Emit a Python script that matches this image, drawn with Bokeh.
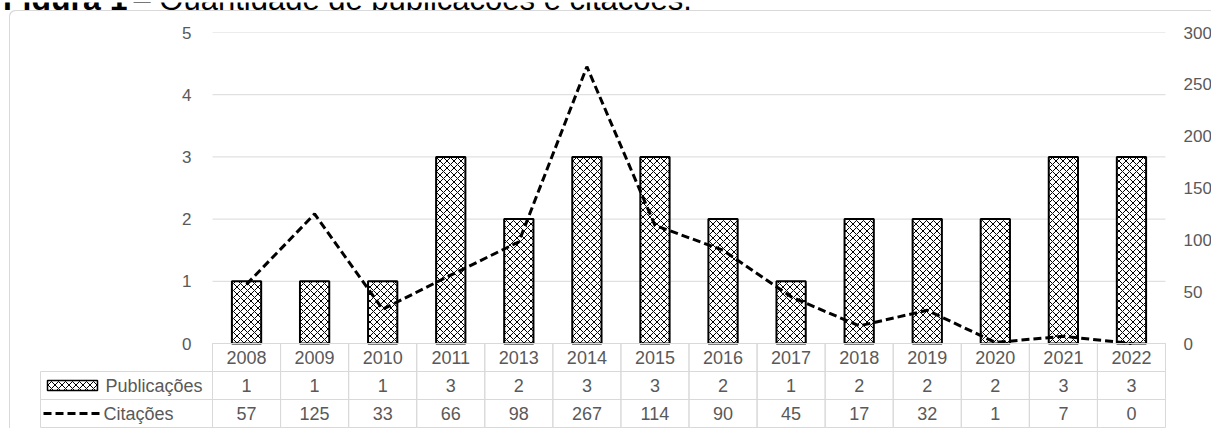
from bokeh.plotting import figure
from bokeh.models import Range1d, LinearAxis, FixedTicker
from bokeh.layouts import column
from bokeh.embed import file_html
from bokeh.resources import INLINE
from bokeh.core.properties import value

# ---------------- data ----------------
years = ["2008", "2009", "2010", "2011", "2013", "2014", "2015",
         "2016", "2017", "2018", "2019", "2020", "2021", "2022"]
publicacoes = [1, 1, 1, 3, 2, 3, 3, 2, 1, 2, 2, 2, 3, 3]
citacoes = [57, 125, 33, 66, 98, 267, 114, 90, 45, 17, 32, 1, 7, 0]
left_ticks = [0, 1, 2, 3, 4, 5]
right_ticks = [0, 50, 100, 150, 200, 250, 300]
series_names = ["Publicações", "Citações"]
title_bold = "Figura 1"
title_rest = "– Quantidade de publicações e citações."

# ---------------- style / layout (px, page coordinates) ----------------
FONT = value("Liberation Sans")
TXT = "#595959"
GRID = "#d9d9d9"
ORIGIN_X = 9          # left edge of the chart box
FRAME_L = 212         # left of plot area
FRAME_W = 953         # width of plot area
FRAME_T = 32          # top of plot area
PLOT_H = 311          # height of plot area
ROW_H = 28            # table row height
LEG_L = 40            # left of table legend column
TITLE_H = 10
TITLE_BASE = -3.5     # title baseline (its upper part lies above the page)
PAGE_W = 1211

n = len(years)
CW = FRAME_W / n
PPU = PLOT_H / max(left_ticks)
ru = ROW_H / PPU
ratio = max(right_ticks) / max(left_ticks)
leg = (FRAME_L - LEG_L) / CW
padx = 1 / CW
table_units = (3 * ROW_H + 1) / PPU
centers = [i + 0.5 for i in range(n)]

common = dict(output_backend="svg", toolbar_location=None,
              outline_line_color=None, border_fill_color=None,
              background_fill_color=None)

# ---------------- title strip (top of the title is cut, as in the source) ----------------
c = figure(width=PAGE_W, height=TITLE_H, x_range=Range1d(0, PAGE_W),
           y_range=Range1d(TITLE_H, 0), min_border=0,
           x_axis_location=None, y_axis_location=None, **common)
c.grid.visible = False
c.text(x=[127], y=[TITLE_BASE], text=[title_bold], text_font=FONT,
       text_font_size="32px", text_font_style="bold", text_align="right",
       text_baseline="alphabetic", text_color="black")
c.text(x=[133], y=[TITLE_BASE], text=[title_rest], text_font=FONT,
       text_font_size="31px", text_align="left",
       text_baseline="alphabetic", text_color="black")

# ---------------- chart + data table ----------------
p = figure(x_range=Range1d(-leg - padx, n + padx),
           y_range=Range1d(-table_units, max(left_ticks)),
           frame_width=FRAME_W + (FRAME_L - LEG_L) + 2,
           frame_height=PLOT_H + 3 * ROW_H + 1,
           min_border_left=LEG_L - 1 - ORIGIN_X, min_border_right=37,
           min_border_top=FRAME_T - TITLE_H, min_border_bottom=0,
           x_axis_location=None, y_axis_location="left", **common)
p.grid.visible = False
p.extra_y_ranges = {"cit": Range1d(-table_units * ratio, max(right_ticks))}
p.add_layout(LinearAxis(y_range_name="cit"), "right")

left_standoff = (LEG_L - 1) - (FRAME_L - 15)
for ax, ticks, stand in ((p.yaxis[0], left_ticks, left_standoff),
                         (p.yaxis[1], right_ticks, 11)):
    ax.ticker = FixedTicker(ticks=ticks)
    ax.axis_line_color = None
    ax.major_tick_line_color = None
    ax.minor_tick_line_color = None
    ax.major_label_standoff = stand
    ax.major_label_text_font = "Liberation Sans"
    ax.major_label_text_font_size = "17px"
    ax.major_label_text_color = TXT

# horizontal gridlines over the plot area only
p.segment(x0=[0] * len(left_ticks), x1=[n] * len(left_ticks),
          y0=left_ticks, y1=left_ticks, line_color=GRID, line_width=1)

# bars and line
p.vbar(x=centers, top=publicacoes, bottom=0, width=0.43,
       fill_color="white", line_color="black", line_width=2,
       hatch_pattern="diagonal_cross", hatch_scale=7, hatch_weight=1,
       hatch_color="black")
p.line(x=centers, y=citacoes, y_range_name="cit", line_color="black",
       line_width=3, line_dash="8 4")

# data table cells
row_y = [-0.5 * ru, -1.5 * ru, -2.5 * ru]
p.rect(x=centers * 3, y=[row_y[0]] * n + [row_y[1]] * n + [row_y[2]] * n,
       width=1, height=ru, fill_color=None, line_color=GRID, line_width=1)
p.rect(x=[-leg / 2] * 2, y=row_y[1:], width=leg, height=ru,
       fill_color=None, line_color=GRID, line_width=1)

tstyle = dict(text_font=FONT, text_font_size="18px", text_color=TXT,
              text_baseline="middle")
p.text(x=centers, y=[row_y[0]] * n, text=years, text_align="center", **tstyle)
p.text(x=centers, y=[row_y[1]] * n, text=[str(v) for v in publicacoes],
       text_align="center", **tstyle)
p.text(x=centers, y=[row_y[2]] * n, text=[str(v) for v in citacoes],
       text_align="center", **tstyle)

# legend swatches + names
half = 5 / PPU
p.quad(left=[(47 - FRAME_L) / CW], right=[(97 - FRAME_L) / CW],
       bottom=[row_y[1] - half], top=[row_y[1] + half], fill_color="white",
       line_color="black", line_width=1.5, hatch_pattern="diagonal_cross",
       hatch_scale=7, hatch_weight=1, hatch_color="black")
p.line(x=[(43 - FRAME_L) / CW, (100 - FRAME_L) / CW], y=[row_y[2]] * 2,
       line_color="black", line_width=3, line_dash="8 4")
p.text(x=[(105 - FRAME_L) / CW, (103 - FRAME_L) / CW], y=row_y[1:],
       text=series_names, text_align="left", **tstyle)

wrapper = column(p, margin=(0, 0, 0, ORIGIN_X),
                 styles={"box-shadow": "inset 1px 1px 0 0 #d9d9d9",
                         "border-top-left-radius": "6px"})
root = column(c, wrapper)

open("out.html", "w").write(file_html(root, INLINE))
